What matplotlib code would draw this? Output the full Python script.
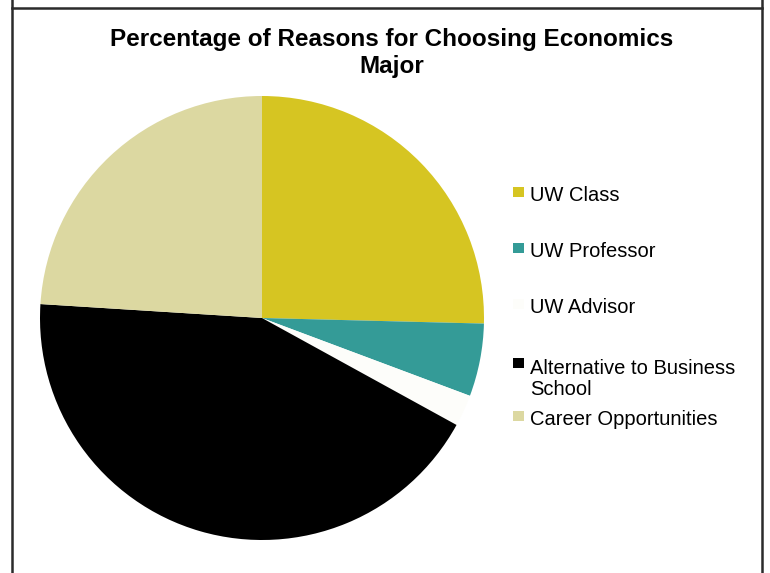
import matplotlib.pyplot as plt
from matplotlib.lines import Line2D
from matplotlib.patches import Rectangle

plt.rcParams['font.family'] = ['Liberation Sans', 'DejaVu Sans']

# Data
reasons = ['UW Class', 'UW Professor', 'UW Advisor',
           'Alternative to Business School', 'Career Opportunities']
shares = [25.4, 5.3, 2.3, 43.0, 24.0]
colors = ['#D6C522', '#349B97', '#FDFDFA', '#000000', '#DCD8A1']

W, H = 770, 573
fig = plt.figure(figsize=(W / 100, H / 100), dpi=100)

# Pie (center ~ (262, 318) px, radius ~ 222 px)
cx, cy, r = 262, 318, 222
ax = fig.add_axes([(cx - r) / W, (H - cy - r) / H, 2 * r / W, 2 * r / H])
ax.pie(shares, colors=colors, startangle=90, counterclock=False,
       radius=1, wedgeprops={'linewidth': 0})
ax.set_xlim(-1, 1)
ax.set_ylim(-1, 1)
ax.set_aspect('equal')
ax.axis('off')

# Title
fig.text(392 / W, 1 - 28 / H,
         'Percentage of Reasons for Choosing Economics\nMajor',
         ha='center', va='top', fontsize=17.5, fontweight='bold',
         linespacing=1.25)

# Legend drawn by hand to follow the uneven spacing of the original
legend_base = [201, 257, 313, 372, 425]   # baseline of first line, px
fs = 14.5
step = 1.12 * fs * 100 / 72               # line step in px
for label, col, yb in zip(reasons, colors, legend_base):
    text = label.replace('Business School', 'Business\nSchool')
    extra = text.count('\n') * step
    fig.add_artist(Rectangle((513 / W, 1 - (yb - 4) / H), 11 / W, 10 / H,
                             transform=fig.transFigure, facecolor=col,
                             edgecolor='none'))
    fig.text(530 / W, 1 - (yb + extra) / H, text, ha='left', va='baseline',
             fontsize=fs, linespacing=1.12)

# Frame lines
frame = dict(color='#2b2b2b', linewidth=1.8, transform=fig.transFigure)
fig.add_artist(Line2D([12 / W, 762 / W], [1 - 8 / H, 1 - 8 / H], **frame))
fig.add_artist(Line2D([12 / W, 12 / W], [0, 1], **frame))
fig.add_artist(Line2D([762 / W, 762 / W], [0, 1], **frame))

fig.savefig('out.png', dpi=100)
